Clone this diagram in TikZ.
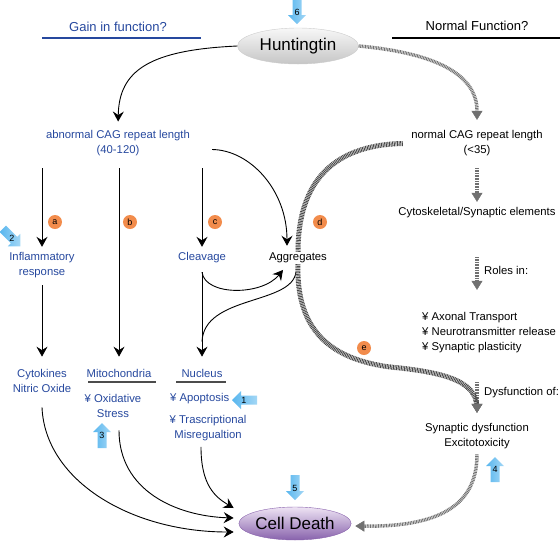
\documentclass[tikz,border=0pt]{standalone}
\usepackage{fontspec}
\setmainfont{Liberation Sans}
\usetikzlibrary{arrows.meta,shapes.geometric}
\definecolor{gainblue}{RGB}{38,72,158}
\definecolor{hintblue}{RGB}{88,182,238}
\definecolor{dotorange}{RGB}{242,140,76}
\definecolor{hatchgray}{RGB}{112,112,112}
\definecolor{deathpurple}{RGB}{136,98,172}
\definecolor{deathlight}{RGB}{238,228,244}
\tikzstyle{gaintext}=[text=gainblue, font=\fontsize{11.3}{15}\selectfont, align=center, inner sep=1pt]
\tikzstyle{normtext}=[text=black, font=\fontsize{11.3}{15}\selectfont, align=center, inner sep=1pt]
\tikzstyle{headtext}=[font=\fontsize{13}{15}\selectfont, inner sep=1pt]
\tikzstyle{letter}=[circle, fill=dotorange, inner sep=0pt, minimum size=14pt, font=\fontsize{9}{9}\selectfont]
\tikzstyle{hintnum}=[inner sep=0pt, font=\fontsize{9}{9}\selectfont]
\tikzstyle{flow}=[line width=0.9pt, -{Stealth[length=10pt,width=11pt,inset=3.5pt]}]
\tikzstyle{roughflow}=[line width=3.5pt, hatchgray, dash pattern=on 0.9pt off 0.7pt, -{Triangle[length=9pt,width=11pt,line width=0.4pt]}]
\tikzstyle{bigrough}=[line width=5pt, black!72, dash pattern=on 0.9pt off 0.7pt]
\tikzset{hintarrow/.pic={
    \path[left color=hintblue, right color=hintblue!55] (-13,-4.5) -- (3,-4.5) -- (3,-9) -- (12,0) -- (3,9) -- (3,4.5) -- (-13,4.5) -- cycle;
}}

\begin{document}
\begin{tikzpicture}[x=1pt, y=-1pt]
\useasboundingbox (0,0) rectangle (560,542);
% Headings
    \node[headtext, text=gainblue] (gain) at (118,27) {Gain in function?};
    \draw[gainblue, line width=1.3pt] (42,38) -- (201,38);
    \node[headtext] (normal) at (477,26) {Normal Function?};
    \draw[line width=1.3pt] (392,38) -- (560,38);
% Ellipses
    \node[ellipse, minimum width=121pt, minimum height=36pt, inner sep=0pt, top color=gray!6, bottom color=gray!45, draw=gray!40, font=\fontsize{17}{17}\selectfont] (hunt) at (298,46) {Huntingtin};
    \node[ellipse, minimum width=104pt, minimum height=33pt, inner sep=0pt, top color=deathlight, bottom color=deathpurple, draw=deathpurple, font=\fontsize{17}{17}\selectfont] (death) at (295,523.5) {Cell Death};
% Gain in function side
    \node[gaintext] (abn) at (118,143.5) {abnormal CAG repeat length\\(40-120)};
    \node[gaintext] (infl) at (42,265.5) {Inflammatory\\response};
    \node[gaintext] (clv) at (202,258) {Cleavage};
    \node[normtext] (aggr) at (298,258) {Aggregates};
    \node[gaintext] (cyto) at (42,380.5) {Cytokines\\Nitric Oxide};
    \node[gaintext] (mito) at (119,373) {Mitochondria};
    \node[gaintext] (oxs) at (113,405.5) {¥ Oxidative\\Stress};
    \node[gaintext] (nucl) at (202,373) {Nucleus};
    \node[gaintext, anchor=west] (apo) at (169,399) {¥ Apoptosis};
    \node[gaintext] (trs) at (208,428) {¥ Trascriptional\\Misregualtion};
    \draw[black!70, line width=1.3pt] (88,382) -- (156,382);
    \draw[black!70, line width=1.3pt] (176,382) -- (226,382);
% Normal function side
    \node[normtext] (ncag) at (477,143.5) {normal CAG repeat length\\(<35)};
    \node[normtext] (cse) at (477,213) {Cytoskeletal/Synaptic elements};
    \node[normtext, anchor=west] (roles) at (483,270) {Roles in:};
    \node[normtext, anchor=west, align=left] (axn) at (421,332.5) {¥ Axonal Transport\\¥ Neurotransmitter release\\¥ Synaptic plasticity};
    \node[normtext, anchor=west] (dysf) at (483,393) {Dysfunction of:};
    \node[normtext] (syn) at (477,436.5) {Synaptic dysfunction\\Excitotoxicity};
% Letters
    \node[letter] (ca) at (55,222) {a};
    \node[letter] (cb) at (130,222) {b};
    \node[letter] (cc) at (215,222) {c};
    \node[letter] (cd) at (320,222) {d};
    \node[letter] (ce) at (364,348) {e};
% Numbered hints
    \pic[rotate=180] at (244,400) {hintarrow};
    \node[hintnum] (h1) at (244,400) {1};
    \pic[rotate=-45] at (12,238) {hintarrow};
    \node[hintnum] (h2) at (12,238) {2};
    \pic[rotate=90] at (102,435) {hintarrow};
    \node[hintnum] (h3) at (102,435) {3};
    \pic[rotate=90] at (495,469) {hintarrow};
    \node[hintnum] (h4) at (495,469) {4};
    \pic[rotate=-90] at (295,488) {hintarrow};
    \node[hintnum] (h5) at (295,488) {5};
    \pic[rotate=-90] at (297,12) {hintarrow};
    \node[hintnum] (h6) at (297,12) {6};
% Black arrows
    \draw[flow, shorten >=8pt] (hunt.west) .. controls (150,50) and (119,70) .. (abn.north);
    \draw[flow, shorten <=10.7pt, shorten >=4.7pt] (abn.south -| infl.north) -- (infl.north);
    \draw[flow, shorten <=10.7pt, shorten >=11pt] (abn.south -| mito.north) -- (mito.north);
    \draw[flow, shorten <=10.7pt, shorten >=4.7pt] (abn.south -| clv.north) -- (clv.north);
    \draw[flow] ([xshift=21pt,yshift=-6pt]abn.east) .. controls (250,150) and (287,190) .. ([xshift=-11pt,yshift=6pt]aggr.north);
    \draw[flow, shorten <=5.7pt, shorten >=11pt] (infl.south) -- (cyto.north);
    \draw[flow, shorten <=7.7pt, shorten >=11pt] (clv.south) -- (nucl.north);
    \draw[flow] ([yshift=-7.7pt]clv.south) .. controls (205,296) and (262,296) .. ([xshift=-15pt,yshift=-5.7pt]aggr.south);
    \draw[line width=0.9pt] ([xshift=-2pt,yshift=-7.7pt]aggr.south) .. controls (292,305) and (204,295) .. ([yshift=26pt]nucl.north);
    \draw[flow] ([yshift=-14pt]cyto.south) .. controls (45,480) and (130,532) .. ([xshift=-5pt,yshift=-8.5pt]death.west);
    \draw[flow] ([xshift=6pt,yshift=-12pt]oxs.south) .. controls (119,490) and (175,516) .. ([xshift=-5pt,yshift=5.5pt]death.west);
    \draw[flow] ([xshift=-7pt,yshift=-5pt]trs.south) .. controls (201,485) and (215,497) .. ([xshift=-5pt,yshift=15.5pt]death.west);
% Hatched arrows
    \draw[roughflow, shorten >=9.7pt] (hunt.east) .. controls (425,52) and (477,70) .. (ncag.north);
    \draw[roughflow, shorten <=10.7pt, shorten >=4.7pt] (ncag.south) -- (cse.north);
    \draw[roughflow, shorten <=37.7pt, shorten >=21.2pt] (cse.south) -- (cse.south |- axn.north);
    \draw[roughflow, shorten <=28.2pt, shorten >=9.7pt] (axn.south -| syn.north) -- (syn.north);
    \draw[bigrough] ([xshift=-7.4pt]ncag.west) .. controls (330,145) and (298,185) .. (aggr.north);
    \draw[bigrough] (aggr.south) .. controls (296,330) and (330,362) .. (400,368) .. controls (455,374) and (477,385) .. ([yshift=14pt]syn.north);
    \draw[roughflow] ([yshift=18pt]syn.north) -- ([yshift=9.7pt]syn.north);
    \draw[roughflow] ([yshift=-4pt]syn.south) .. controls (477,505) and (440,527) .. ([xshift=4pt,yshift=-2.5pt]death.east);
\end{tikzpicture}
\end{document}
